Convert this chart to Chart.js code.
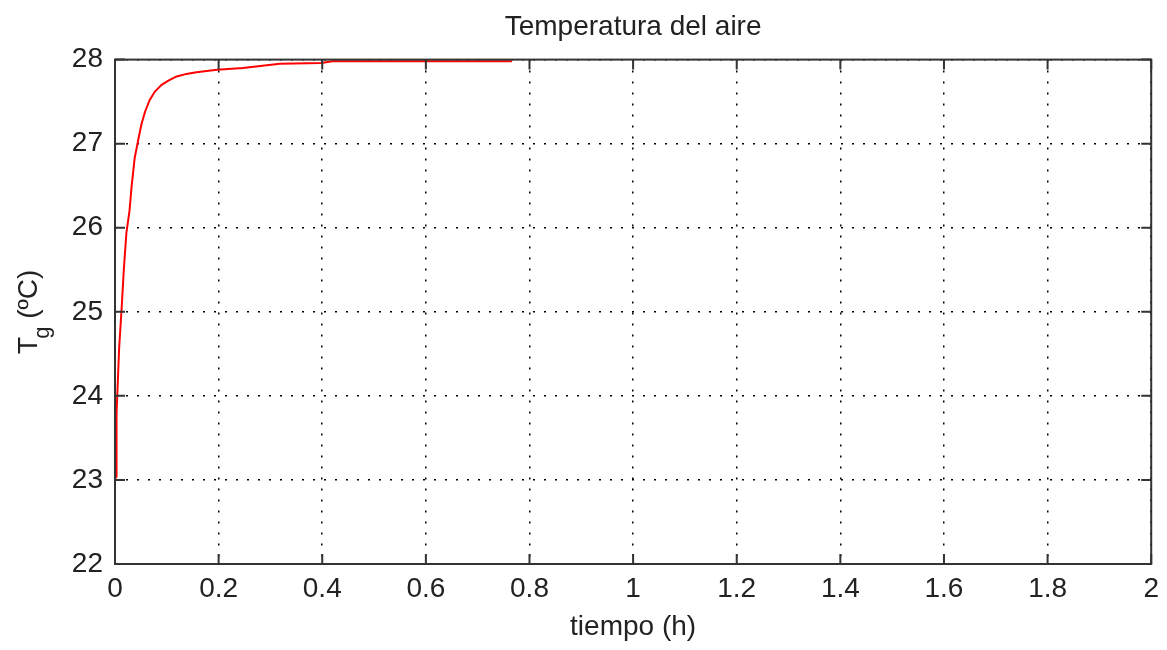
<!DOCTYPE html>
<html>
<head>
<meta charset="utf-8">
<script src="https://cdn.jsdelivr.net/npm/chart.js@4"></script>
<style>
    html, body { margin: 0; padding: 0; background: #fff; }
    #wrap { width: 1167px; height: 650px; }
</style>
</head>
<body>
<div id="wrap"><canvas id="tempChart" width="1167" height="650"></canvas></div>
<script>
// time in hours, air temperature in degC
const tiempo = [0, 0.002, 0.003, 0.008, 0.013, 0.017, 0.022, 0.028, 0.032, 0.038, 0.045, 0.051, 0.058, 0.067, 0.077, 0.09, 0.103, 0.119, 0.138, 0.157, 0.177, 0.197, 0.247, 0.318, 0.398, 0.42, 0.766];
const tempAire = [23.0, 23.04, 23.79, 24.57, 25.06, 25.5, 25.94, 26.2, 26.49, 26.83, 27.05, 27.23, 27.38, 27.52, 27.62, 27.7, 27.75, 27.8, 27.83, 27.85, 27.865, 27.88, 27.9, 27.95, 27.96, 27.98, 27.98];
const xTicks = [0, 0.2, 0.4, 0.6, 0.8, 1, 1.2, 1.4, 1.6, 1.8, 2];
const yTicks = [22, 23, 24, 25, 26, 27, 28];

const FONT = "'Liberation Sans', Arial, sans-serif";
const points = tiempo.map((t, i) => ({ x: t, y: tempAire[i] }));

// matlab-ish box with inward ticks
const boxPlugin = {
    id: "boxPlugin",
    afterDraw(chart) {
        const { ctx, chartArea: a, scales } = chart;
        const len = 10;
        ctx.save();
        ctx.strokeStyle = "#333";
        ctx.lineWidth = 2;
        ctx.strokeRect(a.left, a.top, a.right - a.left, a.bottom - a.top);
        ctx.beginPath();
        xTicks.forEach(v => {
            const px = scales.x.getPixelForValue(v);
            ctx.moveTo(px, a.bottom); ctx.lineTo(px, a.bottom - len);
            ctx.moveTo(px, a.top); ctx.lineTo(px, a.top + len);
        });
        yTicks.forEach(v => {
            const py = scales.y.getPixelForValue(v);
            ctx.moveTo(a.left, py); ctx.lineTo(a.left + len, py);
            ctx.moveTo(a.right, py); ctx.lineTo(a.right - len, py);
        });
        ctx.stroke();

        // y label with subscript: T_g (ºC)
        const cy = (a.top + a.bottom) / 2;
        ctx.fillStyle = "#222";
        ctx.textBaseline = "alphabetic";
        ctx.textAlign = "left";
        ctx.font = "28px " + FONT;
        const wT = ctx.measureText("T").width;
        const wRest = ctx.measureText(" (ºC)").width;
        ctx.font = "22px " + FONT;
        const wG = ctx.measureText("g").width;
        const total = wT - 2 + wG + wRest;
        ctx.translate(37, cy + total / 2);
        ctx.rotate(-Math.PI / 2);
        ctx.font = "28px " + FONT;
        ctx.fillText("T", 0, 0);
        ctx.font = "22px " + FONT;
        ctx.fillText("g", wT - 2, 12);
        ctx.font = "28px " + FONT;
        ctx.fillText(" (ºC)", wT - 2 + wG, 0);
        ctx.restore();
    }
};

new Chart(document.getElementById("tempChart"), {
    type: "line",
    data: {
        datasets: [{
            data: points,
            borderColor: "#ff0000",
            borderWidth: 2,
            pointRadius: 0,
            tension: 0,
            fill: false
        }]
    },
    options: {
        responsive: false,
        animation: false,
        layout: { padding: { left: 0, right: 13, top: 0, bottom: 0 } },
        plugins: {
            legend: { display: false },
            tooltip: { enabled: false },
            title: {
                display: true,
                text: "Temperatura del aire",
                fullSize: false,
                color: "#222",
                font: { family: FONT, size: 28, weight: "normal" },
                padding: { top: 10, bottom: 16 }
            }
        },
        scales: {
            x: {
                type: "linear",
                min: 0,
                max: 2,
                afterBuildTicks: (scale) => { scale.ticks = xTicks.map(v => ({ value: v })); },
                afterFit: (scale) => { scale.height = 86; },
                ticks: {
                    color: "#222",
                    font: { family: FONT, size: 28 },
                    padding: 8,
                    maxRotation: 0,
                    autoSkip: false,
                    callback: (v) => String(Math.round(v * 10) / 10)
                },
                grid: { color: "#000", lineWidth: 1.5, drawTicks: false },
                border: { display: false, dash: [2, 9] },
                title: {
                    display: true,
                    text: "tiempo (h)",
                    color: "#222",
                    font: { family: FONT, size: 28 },
                    padding: { top: 0, bottom: 6 }
                }
            },
            y: {
                min: 22,
                max: 28,
                afterBuildTicks: (scale) => { scale.ticks = yTicks.map(v => ({ value: v })); },
                afterFit: (scale) => { scale.width = 115; },
                ticks: {
                    color: "#222",
                    font: { family: FONT, size: 28 },
                    padding: 12,
                    autoSkip: false
                },
                grid: { color: "#000", lineWidth: 1.5, drawTicks: false },
                border: { display: false, dash: [2, 9] }
            }
        }
    },
    plugins: [boxPlugin]
});
</script>
</body>
</html>
